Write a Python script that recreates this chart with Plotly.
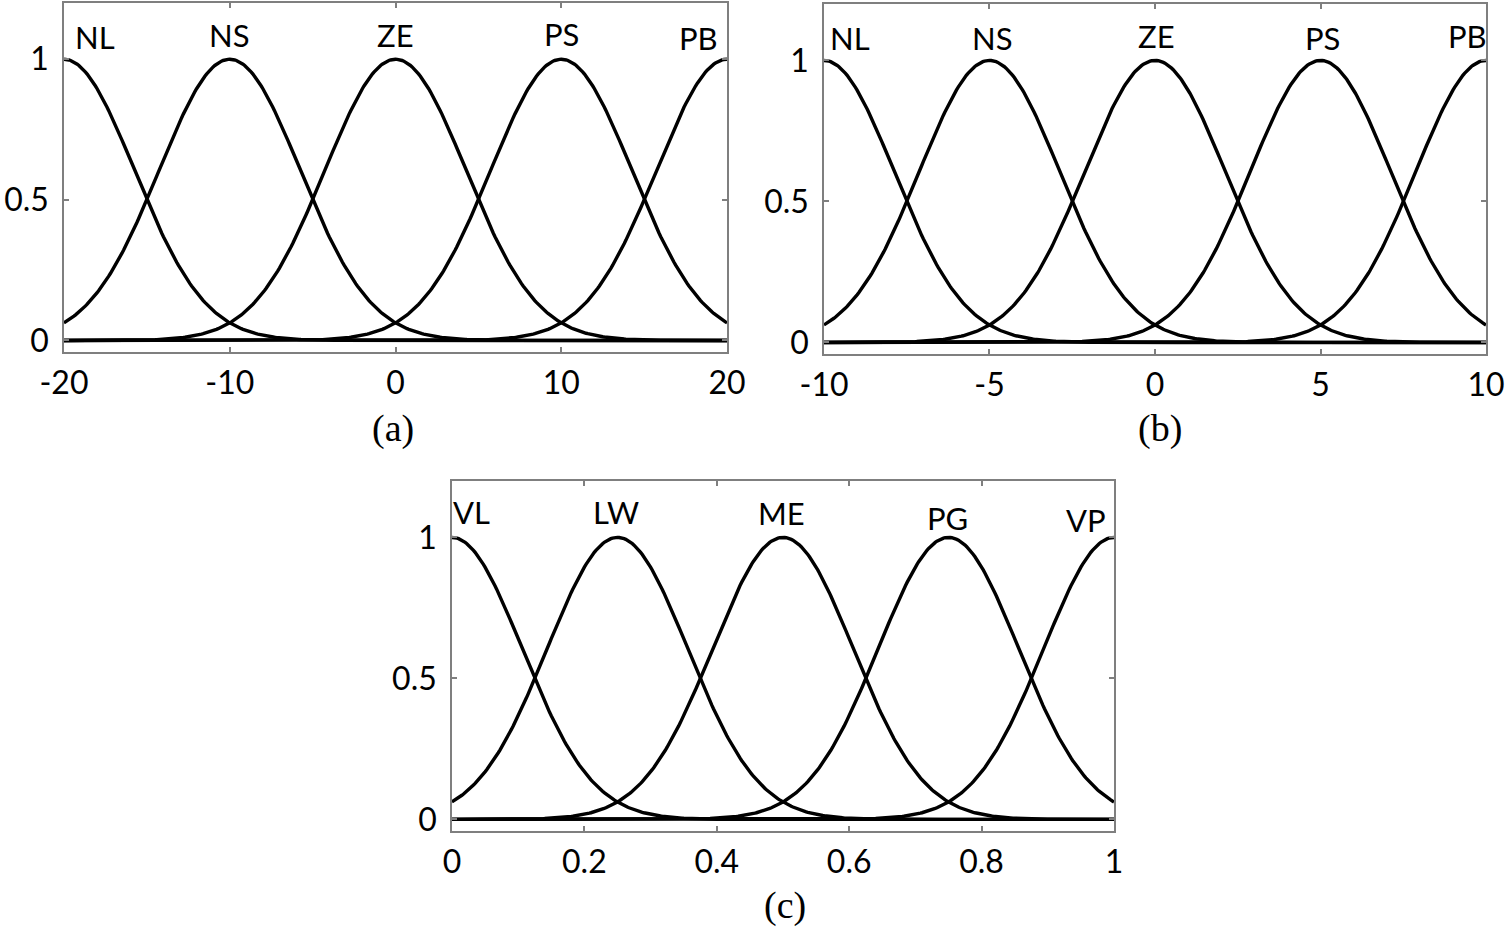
import numpy as np
import plotly.graph_objects as go

# ---- data (membership-function parameters) ----
a_names = ["NL", "NS", "ZE", "PS", "PB"]
a_centers = [-20, -10, 0, 10, 20]
a_sigma = 4.25
a_ticks = [-20, -10, 0, 10, 20]
a_range = [-20, 20]

b_names = ["NL", "NS", "ZE", "PS", "PB"]
b_centers = [-10, -5, 0, 5, 10]
b_sigma = 2.12
b_ticks = [-10, -5, 0, 5, 10]
b_range = [-10, 10]

c_names = ["VL", "LW", "ME", "PG", "VP"]
c_centers = [0, 0.25, 0.5, 0.75, 1.0]
c_sigma = 0.106
c_ticks = [0, 0.2, 0.4, 0.6, 0.8, 1]
c_tick_text = ["0", "0.2", "0.4", "0.6", "0.8", "1"]
c_range = [0, 1]

y_ticks = [0, 0.5, 1]
y_tick_text = ["0", "0.5", "1"]

# label positions (x, y) in data units
a_label_x = [-18.1, -10, 0, 10, 18.3]
a_label_y = [1.08, 1.085, 1.085, 1.09, 1.075]
b_label_x = [-9.2, -4.9, 0.05, 5.05, 9.45]
b_label_y = [1.08, 1.08, 1.085, 1.08, 1.085]
c_label_x = [0.03, 0.248, 0.498, 0.749, 0.958]
c_label_y = [1.09, 1.09, 1.087, 1.068, 1.06]

panels = [
    dict(names=a_names, centers=a_centers, sigma=a_sigma, ticks=a_ticks,
         ticktext=[str(t) for t in a_ticks], rng=a_range, lx=a_label_x, ly=a_label_y,
         xdom=[0.0425, 0.4831], ydom=[0.6239, 0.9968], sub="(a)", subx=0.2611, suby=0.5427),
    dict(names=b_names, centers=b_centers, sigma=b_sigma, ticks=b_ticks,
         ticktext=[str(t) for t in b_ticks], rng=b_range, lx=b_label_x, ly=b_label_y,
         xdom=[0.5475, 0.9874], ydom=[0.6218, 0.9957], sub="(b)", subx=0.7708, suby=0.5427),
    dict(names=c_names, centers=c_centers, sigma=c_sigma, ticks=c_ticks,
         ticktext=c_tick_text, rng=c_range, lx=c_label_x, ly=c_label_y,
         xdom=[0.3003, 0.7402], ydom=[0.1122, 0.4861], sub="(c)", subx=0.5216, suby=0.0331),
]

fig = go.Figure()
tick_font = dict(family="Lato, 'Open Sans', sans-serif", size=32, color="black")
label_font = dict(family="Lato, 'Open Sans', sans-serif", size=31, color="black")
axis_grey = "#7f7f7f"

for i, p in enumerate(panels, start=1):
    xs = np.linspace(p["rng"][0], p["rng"][1], 401)
    for c in p["centers"]:
        ys = np.exp(-((xs - c) ** 2) / (2 * p["sigma"] ** 2))
        fig.add_trace(go.Scatter(x=xs, y=ys, mode="lines",
                                 line=dict(color="black", width=3.4),
                                 xaxis=f"x{i}", yaxis=f"y{i}", showlegend=False,
                                 hoverinfo="skip", cliponaxis=False))
    xa = "xaxis" if i == 1 else f"xaxis{i}"
    ya = "yaxis" if i == 1 else f"yaxis{i}"
    fig.update_layout({
        xa: dict(domain=p["xdom"], range=p["rng"], anchor=f"y{i}",
                 tickvals=p["ticks"], ticktext=p["ticktext"],
                 ticks="inside", ticklen=5, tickcolor=axis_grey, tickwidth=1.5,
                 showline=True, linecolor=axis_grey, linewidth=1.5, mirror="ticks",
                 showgrid=False, zeroline=False, tickfont=tick_font,
                 ticklabelstandoff=2, automargin=False, ticklabeloverflow="allow"),
        ya: dict(domain=p["ydom"], range=[-0.041, 1.2], anchor=f"x{i}",
                 tickvals=y_ticks, ticktext=y_tick_text,
                 ticks="inside", ticklen=5, tickcolor=axis_grey, tickwidth=1.5,
                 showline=True, linecolor=axis_grey, linewidth=1.5, mirror="ticks",
                 showgrid=False, zeroline=False, tickfont=tick_font,
                 ticklabelstandoff=7, automargin=False, ticklabeloverflow="allow"),
    })
    xr = "x" if i == 1 else f"x{i}"
    yr = "y" if i == 1 else f"y{i}"
    for name, lx, ly in zip(p["names"], p["lx"], p["ly"]):
        fig.add_annotation(x=lx, y=ly, xref=xr, yref=yr, text=name, showarrow=False,
                           font=label_font, xanchor="center", yanchor="middle")
    fig.add_annotation(x=p["subx"], y=p["suby"], xref="paper", yref="paper", text=p["sub"],
                       showarrow=False, xanchor="center", yanchor="middle",
                       font=dict(family="'Liberation Serif', 'Times New Roman', serif",
                                 size=38, color="black"))

fig.update_layout(width=1505, height=936,
                  margin=dict(l=0, r=0, t=0, b=0, autoexpand=False),
                  paper_bgcolor="white", plot_bgcolor="white", showlegend=False)

fig.write_html("out.html", config={"displayModeBar": False})

# remove the browser's default body margin so the figure sits at the page origin
with open("out.html", "r", encoding="utf-8") as f:
    html = f.read()
html = html.replace("<head>", "<head><style>html,body{margin:0;padding:0;overflow:hidden;}</style>", 1)
with open("out.html", "w", encoding="utf-8") as f:
    f.write(html)
